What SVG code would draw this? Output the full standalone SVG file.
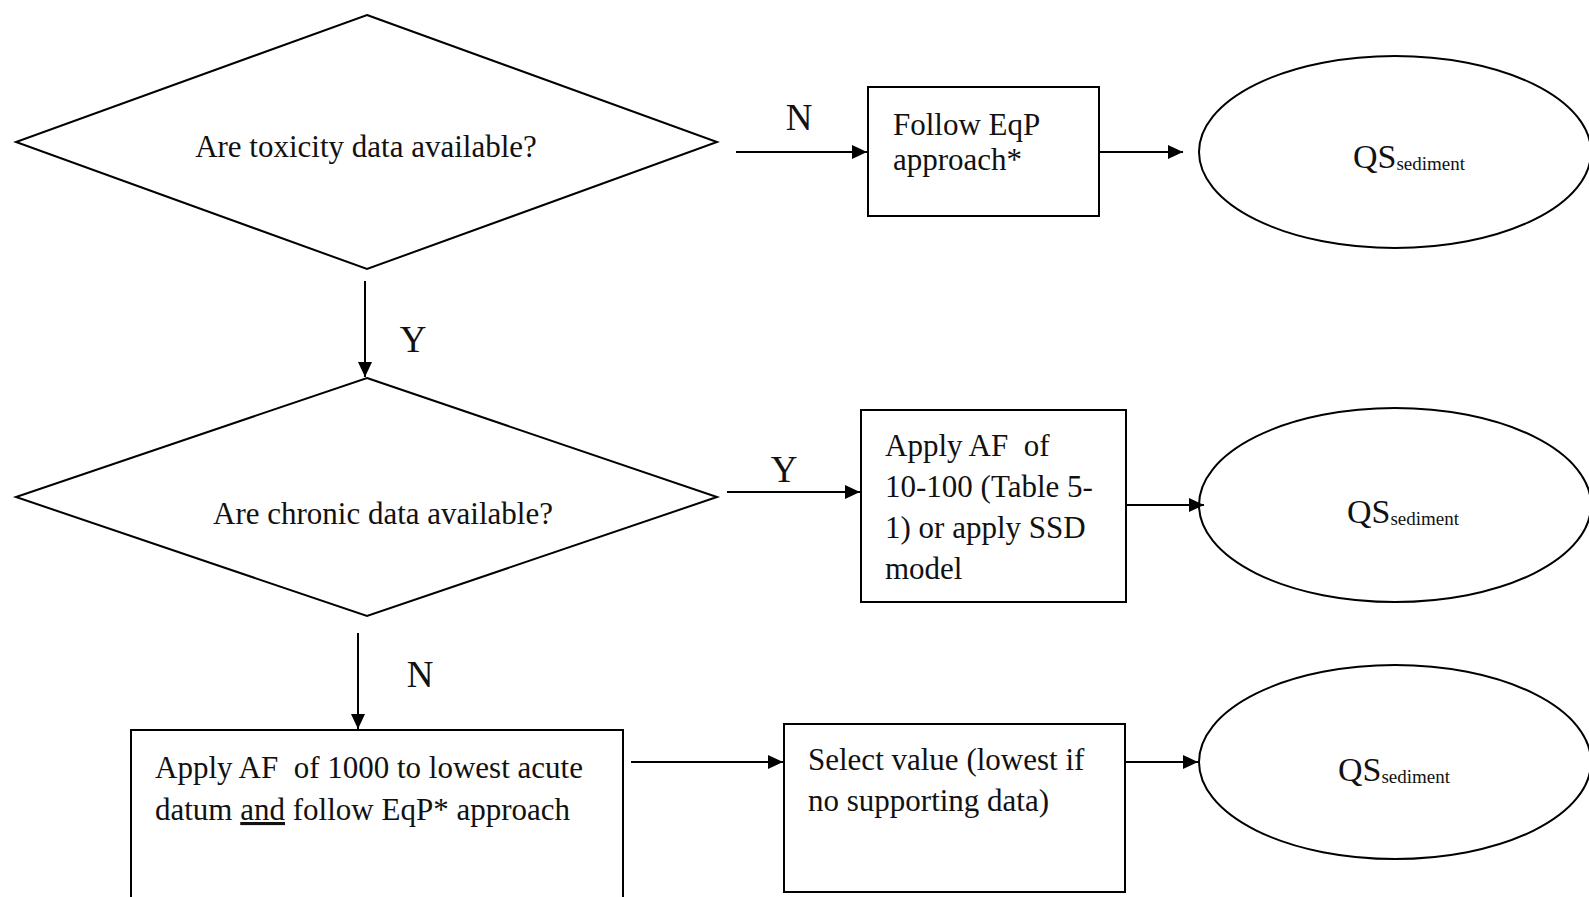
<svg xmlns="http://www.w3.org/2000/svg" width="1589" height="897" viewBox="0 0 1589 897">
<defs>
<marker id="ah" markerUnits="userSpaceOnUse" markerWidth="16" markerHeight="14" refX="15" refY="7" orient="auto">
<path d="M0,0 L15,7 L0,14 z" fill="#000"/>
</marker>
<style>
.shape{fill:#fff;stroke:#000;stroke-width:2}
.conn{fill:none;stroke:#000;stroke-width:2;marker-end:url(#ah)}
.t{font-family:"Liberation Serif","Times New Roman",serif;font-size:31px;fill:#111;white-space:pre}
.lbl{font-family:"Liberation Serif","Times New Roman",serif;font-size:37px;fill:#111;text-anchor:middle}
.qs{font-family:"Liberation Serif","Times New Roman",serif;font-size:34px;fill:#111}
.sub{font-size:19px}
</style>
</defs>
<rect width="1589" height="897" fill="#fff"/>

<g id="q1">
<polygon class="shape" points="367,15 717,142 367,269 16,142"/>
<text class="t" x="366" y="157" text-anchor="middle">Are toxicity data available?</text>
</g>

<g id="q2">
<polygon class="shape" points="367,378 717,497 367,616 16,497"/>
<text class="t" x="383" y="524" text-anchor="middle">Are chronic data available?</text>
</g>

<g id="eqp">
<rect class="shape" x="868" y="87" width="231" height="129"/>
<text class="t" x="893" y="135">Follow EqP</text>
<text class="t" x="893" y="170">approach*</text>
</g>

<g id="af10">
<rect class="shape" x="861" y="410" width="265" height="192"/>
<text class="t" x="885" y="456">Apply AF  of</text>
<text class="t" x="885" y="497">10-100 (Table 5-</text>
<text class="t" x="885" y="538">1) or apply SSD</text>
<text class="t" x="885" y="579">model</text>
</g>

<g id="af1000">
<rect class="shape" x="131" y="730" width="492" height="180"/>
<text class="t" x="155" y="778">Apply AF  of 1000 to lowest acute</text>
<text class="t" x="155" y="820">datum <tspan text-decoration="underline">and</tspan> follow EqP* approach</text>
</g>

<g id="select">
<rect class="shape" x="784" y="724" width="341" height="168"/>
<text class="t" x="808" y="770">Select value (lowest if</text>
<text class="t" x="808" y="811">no supporting data)</text>
</g>

<g id="qs1">
<ellipse class="shape" cx="1395" cy="152" rx="196" ry="96"/>
<text class="qs" x="1353" y="168">QS<tspan class="sub" dy="2">sediment</tspan></text>
</g>

<g id="qs2">
<ellipse class="shape" cx="1395" cy="505" rx="196" ry="97"/>
<text class="qs" x="1347" y="523">QS<tspan class="sub" dy="2">sediment</tspan></text>
</g>

<g id="qs3">
<ellipse class="shape" cx="1395" cy="762" rx="196" ry="97"/>
<text class="qs" x="1338" y="781">QS<tspan class="sub" dy="2">sediment</tspan></text>
</g>

<g id="connectors">
<line class="conn" x1="736" y1="152" x2="867" y2="152"/>
<line class="conn" x1="1099" y1="152" x2="1183" y2="152"/>
<line class="conn" x1="365" y1="281" x2="365" y2="377"/>
<line class="conn" x1="727" y1="492" x2="860" y2="492"/>
<line class="conn" x1="1126" y1="505" x2="1204" y2="505"/>
<line class="conn" x1="358" y1="633" x2="358" y2="729"/>
<line class="conn" x1="631" y1="762" x2="783" y2="762"/>
<line class="conn" x1="1125" y1="762" x2="1198" y2="762"/>
</g>

<g id="labels">
<text class="lbl" x="799" y="130">N</text>
<text class="lbl" x="413" y="352">Y</text>
<text class="lbl" x="784" y="482">Y</text>
<text class="lbl" x="420" y="687">N</text>
</g>
</svg>
